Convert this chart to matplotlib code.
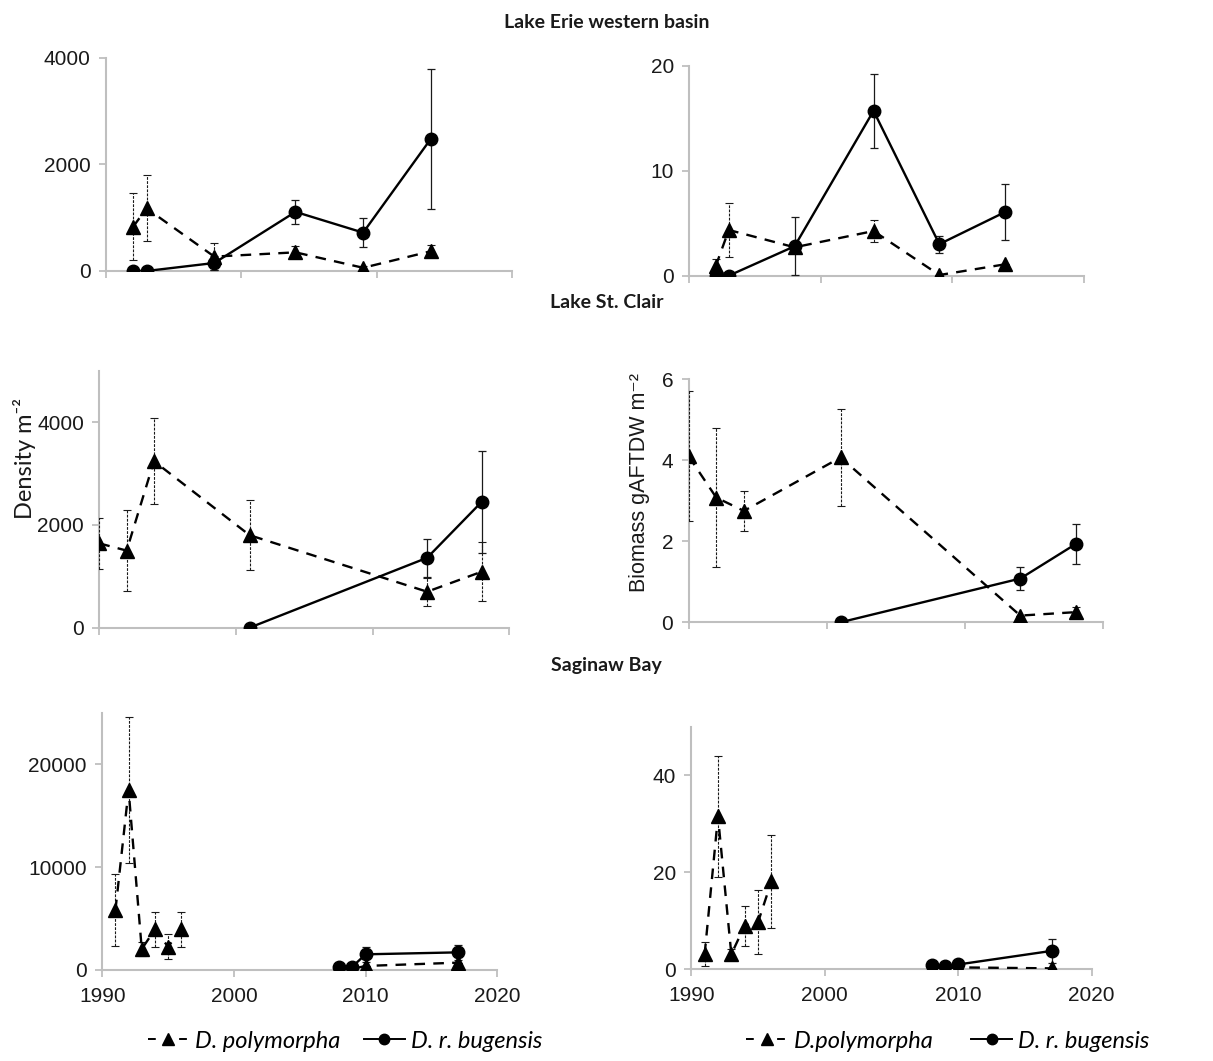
import numpy as np
import matplotlib
matplotlib.use("Agg")
import matplotlib.pyplot as plt
from matplotlib.lines import Line2D

# Lake Erie western basin
erie_years = [1992, 1993, 1998, 2004, 2009, 2014]
erie_dens_dp = [830, 1175, 270, 350, 60, 370]
erie_dens_dp_err = [630, 620, 250, 110, 40, 110]
erie_dens_drb = [0, 0, 150, 1110, 720, 2480]
erie_dens_drb_err = [0, 0, 130, 220, 270, 1320]
erie_bio_dp = [0.9, 4.35, 2.7, 4.25, 0.06, 1.08]
erie_bio_dp_err = [0.7, 2.6, 0.3, 1.05, 0.0, 0.0]
erie_bio_drb = [0.0, 0.0, 2.8, 15.7, 3.0, 6.06]
erie_bio_drb_err = [0.0, 0.0, 2.75, 3.5, 0.8, 2.7]

# Lake St. Clair
stc_years_dp = [1990, 1992, 1994, 2001, 2014, 2018]
stc_years_drb = [2001, 2014, 2018]
stc_dens_dp = [1640, 1500, 3240, 1800, 700, 1090]
stc_dens_dp_err = [500, 790, 840, 680, 270, 570]
stc_dens_drb = [0, 1360, 2450]
stc_dens_drb_err = [0, 370, 990]
stc_bio_dp = [4.1, 3.08, 2.75, 4.07, 0.165, 0.25]
stc_bio_dp_err = [1.6, 1.72, 0.5, 1.2, 0.0, 0.13]
stc_bio_drb = [0.0, 1.08, 1.93]
stc_bio_drb_err = [0.0, 0.28, 0.49]

# Saginaw Bay (gap in sampling between 1996 and 2008)
sag_years_dp_early = [1991, 1992, 1993, 1994, 1995, 1996]
sag_years_late = [2008, 2009, 2010, 2017]
sag_dens_dp_early = [5800, 17500, 2030, 3940, 2260, 3940]
sag_dens_dp_early_err = [3480, 7100, 700, 1660, 1200, 1700]
sag_dens_dp_late = [50, 100, 390, 710]
sag_dens_drb = [320, 320, 1520, 1710]
sag_dens_drb_err = [0, 0, 740, 700]
sag_bio_dp_early = [3.1, 31.5, 3.1, 9.0, 9.7, 18.1]
sag_bio_dp_early_err = [2.5, 12.4, 1.0, 4.1, 6.6, 9.6]
sag_bio_dp_late = [0.2, 0.2, 0.4, 0.2]
sag_bio_drb = [0.8, 0.7, 1.0, 3.8]
sag_bio_drb_err = [0.0, 0.0, 0.0, 2.4]

grey = "#bfbfbf"
ink = "#1a1a1a"
tick_font = "Liberation Sans"


def draw_dp(ax, x, y, err):
    line, caps, bars = ax.errorbar(x, y, yerr=err, color="black", marker="^", markersize=10.5,
                                   linestyle=(0, (4.5, 3.5)), linewidth=1.7, ecolor=ink,
                                   elinewidth=0.8, capsize=3, capthick=0.8, zorder=3)
    bars[0].set_linestyle((0, (2.5, 1.2)))


def draw_drb(ax, x, y, err):
    ax.errorbar(x, y, yerr=err, color="black", marker="o", markersize=9,
                linestyle="-", linewidth=1.7, ecolor=ink, elinewidth=0.9,
                capsize=3, capthick=0.9, zorder=3)


def style(ax, ymax, yticks, show_x):
    ax.set_xlim(1990, 2020)
    ax.set_ylim(0, ymax)
    ax.set_xticks([1990, 2000, 2010, 2020])
    ax.set_yticks(yticks)
    for s in ["top", "right"]:
        ax.spines[s].set_visible(False)
    for s in ["left", "bottom"]:
        ax.spines[s].set_color(grey)
        ax.spines[s].set_linewidth(1.5)
    ax.tick_params(colors=grey, labelcolor=ink, length=5, width=1.3, labelsize=15)
    ax.tick_params(axis="y", pad=6)
    ax.tick_params(axis="x", pad=7)
    for lab in ax.get_yticklabels() + ax.get_xticklabels():
        lab.set_fontfamily(tick_font)
    if not show_x:
        ax.set_xticklabels([])


fig = plt.figure(figsize=(12.13, 10.61), dpi=100)

ax1 = fig.add_axes([0.0874, 0.7446, 0.3347, 0.2008])
ax2 = fig.add_axes([0.5683, 0.7402, 0.3254, 0.1979])
ax3 = fig.add_axes([0.0819, 0.4084, 0.3378, 0.2422])
ax4 = fig.add_axes([0.5677, 0.4135, 0.3418, 0.2290])
ax5 = fig.add_axes([0.0843, 0.0858, 0.3256, 0.2425])
ax6 = fig.add_axes([0.5699, 0.0864, 0.3301, 0.2287])

draw_drb(ax1, erie_years, erie_dens_drb, erie_dens_drb_err)
draw_dp(ax1, erie_years, erie_dens_dp, erie_dens_dp_err)
style(ax1, 4000, [0, 2000, 4000], False)

draw_drb(ax2, erie_years, erie_bio_drb, erie_bio_drb_err)
draw_dp(ax2, erie_years, erie_bio_dp, erie_bio_dp_err)
style(ax2, 20, [0, 10, 20], False)

draw_drb(ax3, stc_years_drb, stc_dens_drb, stc_dens_drb_err)
draw_dp(ax3, stc_years_dp, stc_dens_dp, stc_dens_dp_err)
style(ax3, 5000, [0, 2000, 4000], False)

draw_drb(ax4, stc_years_drb, stc_bio_drb, stc_bio_drb_err)
draw_dp(ax4, stc_years_dp, stc_bio_dp, stc_bio_dp_err)
style(ax4, 6, [0, 2, 4, 6], False)

draw_dp(ax5, sag_years_dp_early, sag_dens_dp_early, sag_dens_dp_early_err)
draw_dp(ax5, sag_years_late, sag_dens_dp_late, [0] * len(sag_years_late))
draw_drb(ax5, sag_years_late, sag_dens_drb, sag_dens_drb_err)
style(ax5, 25000, [0, 10000, 20000], True)

draw_dp(ax6, sag_years_dp_early, sag_bio_dp_early, sag_bio_dp_early_err)
draw_dp(ax6, sag_years_late, sag_bio_dp_late, [0] * len(sag_years_late))
draw_drb(ax6, sag_years_late, sag_bio_drb, sag_bio_drb_err)
style(ax6, 50, [0, 20, 40], True)

ax3.set_ylabel("Density m⁻²", fontsize=17, family=["Lato", "DejaVu Sans"], color=ink)
ax3.yaxis.set_label_coords(-0.155, 0.66)
ax4.set_ylabel("Biomass gAFTDW m⁻²", fontsize=15.5, family=[tick_font, "DejaVu Sans"], color=ink)
ax4.yaxis.set_label_coords(-0.093, 0.577)

title_kw = dict(ha="center", va="center", fontsize=14, fontweight="bold", fontfamily="Lato", color=ink)
fig.text(0.5, 1 - 22 / 1061, "Lake Erie western basin", **title_kw)
fig.text(0.5, 1 - 303 / 1061, "Lake St. Clair", **title_kw)
fig.text(0.5, 1 - 665 / 1061, "Saginaw Bay", **title_kw)

h_dp = Line2D([], [], color="black", marker="^", markersize=8, linestyle=(0, (4, 12)), linewidth=1.4)
h_drb = Line2D([], [], color="black", marker="o", markersize=7.5, linestyle="-", linewidth=1.4)
leg_font = dict(family="Lato", style="italic", size=17)
fig.legend([h_dp, h_drb], ["D. polymorpha", "D. r. bugensis"], loc="center", ncol=2,
           bbox_to_anchor=(345 / 1213, 1 - 1041 / 1061), frameon=False, prop=leg_font,
           handlelength=1.75, columnspacing=1.0, handletextpad=0.25)
fig.legend([h_dp, h_drb], ["D.polymorpha", "D. r. bugensis"], loc="center", ncol=2,
           bbox_to_anchor=(948 / 1213, 1 - 1041 / 1061), frameon=False, prop=leg_font,
           handlelength=1.75, columnspacing=1.6, handletextpad=0.25)

fig.savefig("out.png", dpi=100)
